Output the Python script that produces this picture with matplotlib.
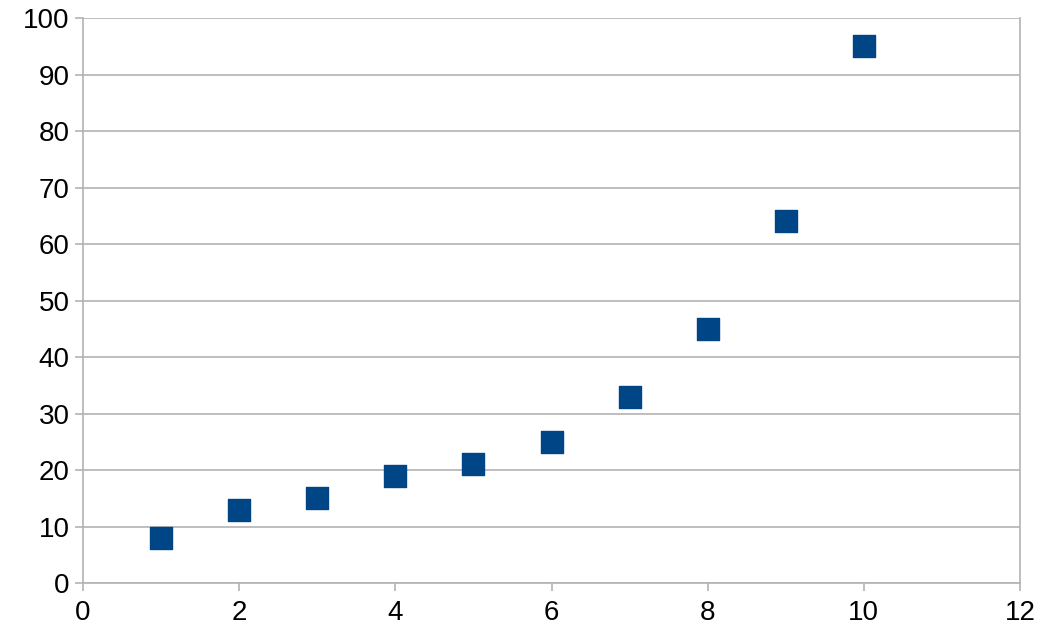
import numpy as np
import matplotlib.pyplot as plt

plt.rcParams['font.family'] = ['Liberation Sans', 'DejaVu Sans']

x = np.array([1, 2, 3, 4, 5, 6, 7, 8, 9, 10])
y = np.array([8, 13, 15, 19, 21, 25, 33, 45, 64, 95])

fig = plt.figure(figsize=(10.49, 6.39), dpi=100)
ax = fig.add_axes([0.0791, 0.0876, 0.8933, 0.8842])

ax.scatter(x, y, marker='s', s=16.5**2, color='#004586', zorder=3, clip_on=False)

ax.set_xlim(0, 12)
ax.set_ylim(0, 100)
ax.set_xticks(np.arange(0, 13, 2))
ax.set_yticks(np.arange(0, 101, 10))
ax.grid(axis='y', color='#b3b3b3', linewidth=1.2)
ax.set_axisbelow(True)

for side in ['left', 'bottom', 'right']:
    ax.spines[side].set_color('#b3b3b3')
    ax.spines[side].set_linewidth(1.2)
ax.spines['top'].set_visible(False)
ax.tick_params(axis='both', colors='#b3b3b3', labelcolor='black',
               labelsize=20, length=6, width=1.2)
ax.tick_params(axis='x', pad=6)

fig.savefig('out.png', dpi=100)
